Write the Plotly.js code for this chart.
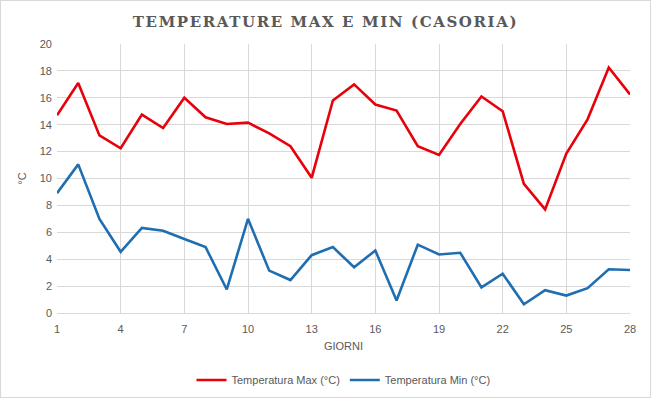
<!DOCTYPE html>
<html><head><meta charset="utf-8">
<script src="https://cdn.plot.ly/plotly-3.0.1.min.js"></script>
<style>
html,body{margin:0;padding:0;background:#fff;}
#wrap{width:651px;height:398px;box-sizing:border-box;border:1px solid #d9d9d9;overflow:hidden;}
#chart{width:649px;height:396px;}
.gtitle{letter-spacing:1.6px;}
</style>
</head><body>
<div id="wrap"><div id="chart"></div></div>
<script>
const giorni = [1,2,3,4,5,6,7,8,9,10,11,12,13,14,15,16,17,18,19,20,21,22,23,24,25,26,27,28];
const tempMax = [14.7,17.1,13.2,12.25,14.75,13.75,16.0,14.55,14.05,14.15,13.35,12.4,10.05,15.8,17.0,15.5,15.05,12.4,11.75,14.05,16.1,15.0,9.6,7.7,11.85,14.4,18.25,16.25];
const tempMin = [8.9,11.05,7.0,4.55,6.33,6.12,5.5,4.9,1.75,7.0,3.15,2.45,4.3,4.9,3.4,4.65,0.93,5.08,4.35,4.48,1.9,2.92,0.65,1.7,1.3,1.85,3.25,3.2];
const xTicks = [1,4,7,10,13,16,19,22,25,28];
const yTicks = [0,2,4,6,8,10,12,14,16,18,20];

const traces = [
  {x: giorni, y: tempMax, type:'scatter', mode:'lines', name:'Temperatura Max (°C)', line:{color:'#e8000b', width:2.6}},
  {x: giorni, y: tempMin, type:'scatter', mode:'lines', name:'Temperatura Min (°C)', line:{color:'#1f6eb1', width:2.6}}
];
const tickFont = {family:'Liberation Sans, Arial, sans-serif', size:11, color:'#595959'};
const layout = {
  width:649, height:396,
  margin:{l:56, r:20, t:43, b:84, autoexpand:false},
  paper_bgcolor:'#fff', plot_bgcolor:'#fff',
  title:{text:'<b>TEMPERATURE MAX E MIN (CASORIA)</b>', font:{family:'DejaVu Serif, Liberation Serif, serif', size:15, color:'#595959'}, x:0.5, xanchor:'center', y:0.948, yanchor:'middle'},
  xaxis:{range:[1,28], tickmode:'array', tickvals:xTicks, ticktext:xTicks.map(String), showgrid:true, gridcolor:'#d9d9d9', gridwidth:1, zeroline:false, showline:true, linecolor:'#d9d9d9', ticks:'', tickfont:tickFont, ticklabelstandoff:6,
    title:{text:'GIORNI', font:{family:'Liberation Sans, Arial, sans-serif', size:11, color:'#595959'}, standoff:8}},
  yaxis:{range:[0,20], tickmode:'array', tickvals:yTicks, showgrid:true, gridcolor:'#d9d9d9', gridwidth:1, zeroline:false, showline:false, ticks:'', tickfont:tickFont, ticklabelstandoff:4,
    title:{text:'°C', font:{family:'Liberation Sans, Arial, sans-serif', size:11, color:'#595959'}, standoff:10}},
  showlegend:true,
  legend:{orientation:'h', x:0.5, xanchor:'center', y:-0.249, yanchor:'middle', font:{family:'Liberation Sans, Arial, sans-serif', size:11, color:'#595959'}, itemwidth:30, tracegroupgap:0},
  font:{family:'Liberation Sans, Arial, sans-serif', color:'#595959'}
};
Plotly.newPlot('chart', traces, layout, {staticPlot:true, displayModeBar:false});
</script>
</body></html>
